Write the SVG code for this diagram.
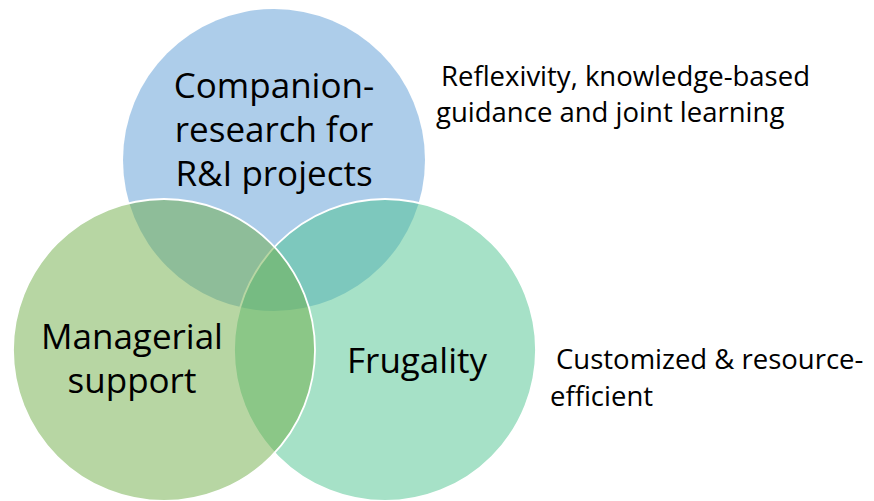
<svg xmlns="http://www.w3.org/2000/svg" width="874" height="501" viewBox="0 0 874 501">
  <style>
    .big { font-family: "Open Sans", "Noto Sans", sans-serif; font-size: 35px; fill: #000; text-anchor: middle; }
    .side { font-family: "Open Sans", "Noto Sans", sans-serif; font-size: 27.5px; fill: #000; }
    .circ { fill-opacity: 0.5; }
    .edge { stroke: #fff; stroke-width: 1.8; }
  </style>
  <rect width="874" height="501" fill="#fff"/>
  <g id="companion-research">
    <circle class="circ" cx="274" cy="160" r="151" fill="#5B9BD5"/>
    <text class="big" x="274" y="98">Companion-</text>
    <text class="big" x="274" y="142">research for</text>
    <text class="big" x="274" y="186">R&amp;I projects</text>
  </g>
  <g id="frugality">
    <circle class="circ edge" cx="385" cy="350" r="151" fill="#4DC38F"/>
  </g>
  <g id="managerial-support">
    <circle class="circ edge" cx="164" cy="350" r="151" fill="#70AD47"/>
    <text class="big" x="132" y="349">Managerial</text>
    <text class="big" x="132" y="393">support</text>
  </g>
  <g id="frugality-label">
    <text class="big" x="417" y="373">Frugality</text>
  </g>
  <g id="reflexivity-note">
    <text class="side" x="441" y="86">Reflexivity, knowledge-based</text>
    <text class="side" x="436" y="121.5">guidance and joint learning</text>
  </g>
  <g id="customized-note">
    <text class="side" x="556" y="369">Customized &amp; resource-</text>
    <text class="side" x="550" y="406">efficient</text>
  </g>
</svg>
